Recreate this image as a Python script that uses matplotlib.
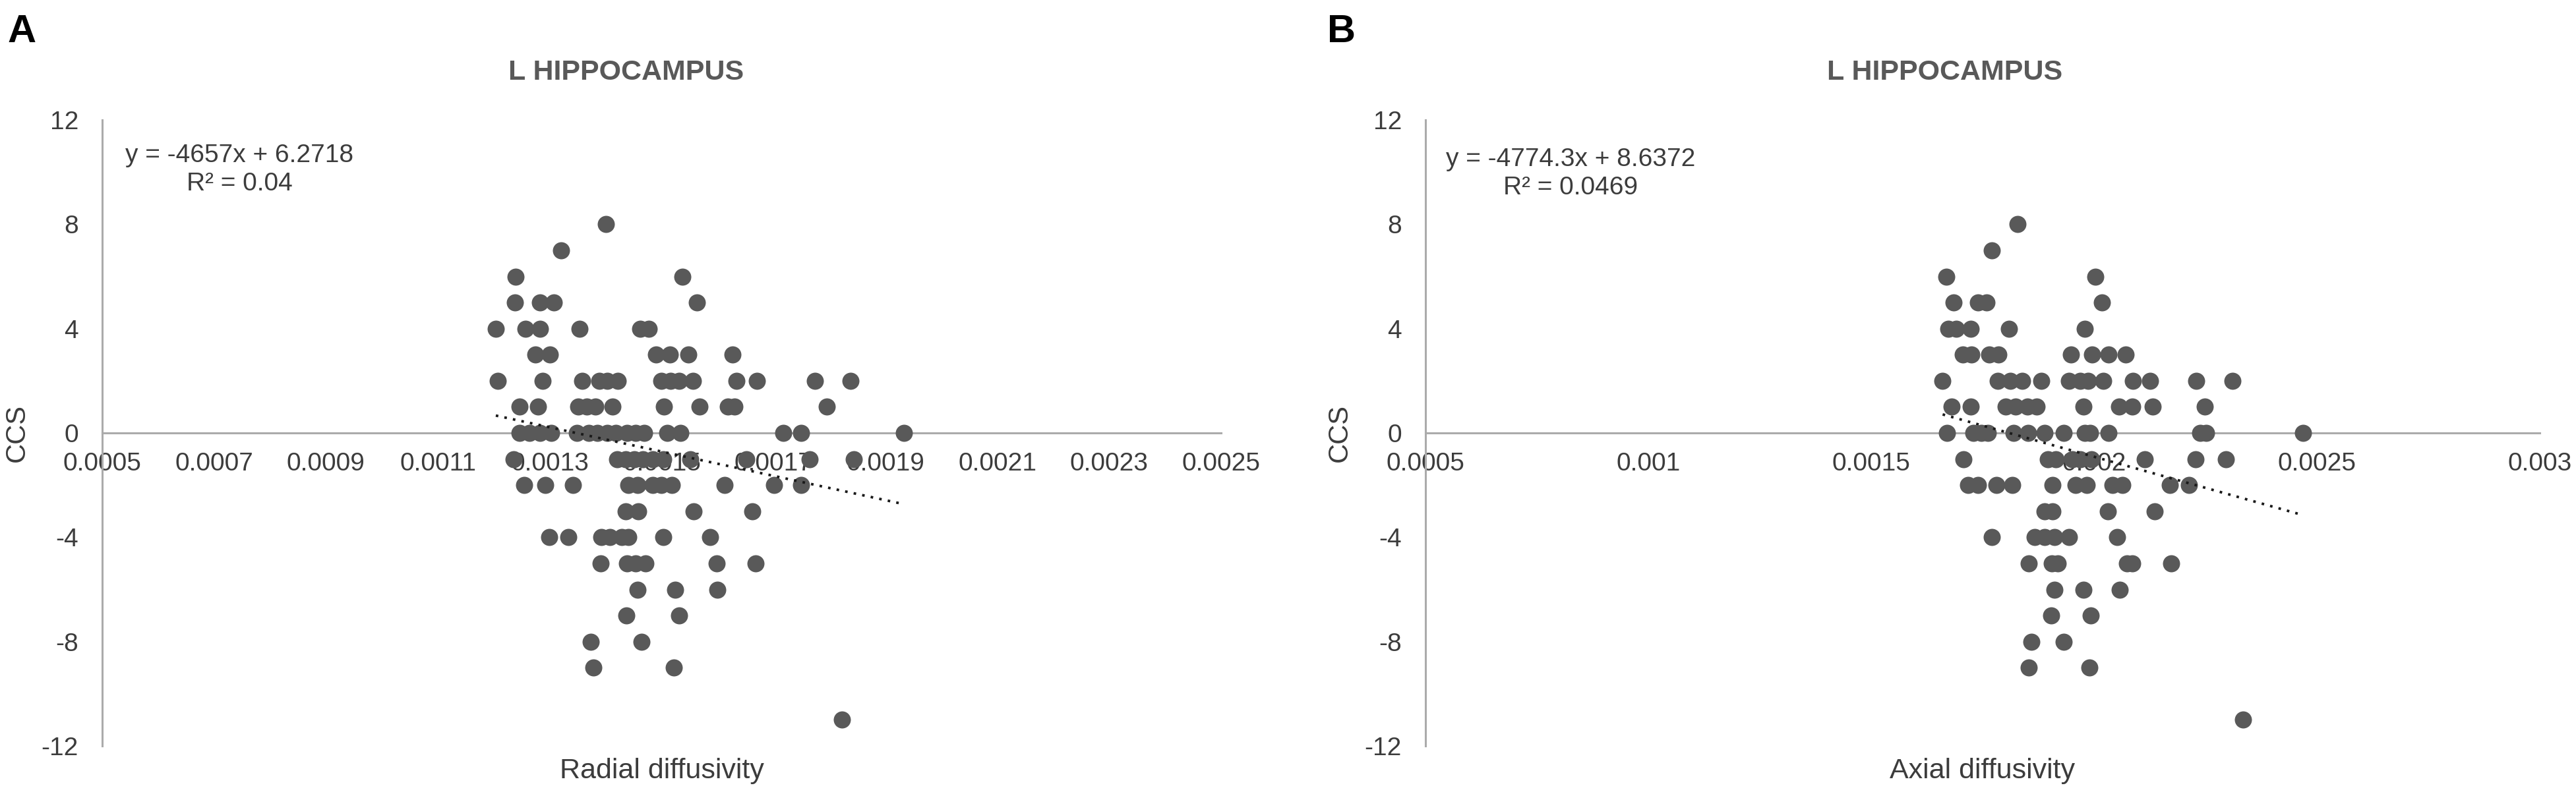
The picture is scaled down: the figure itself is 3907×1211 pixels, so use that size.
import matplotlib
matplotlib.use("Agg")
import matplotlib.pyplot as plt

plt.rcParams['font.family'] = ['Liberation Sans', 'DejaVu Sans']

# ---------------- data: panel A (radial diffusivity vs CCS) ----------------
radial_diffusivity = [
    0.0014010,                                                        # CCS 8
    0.0013205,                                                        # CCS 7
    0.0012395, 0.0015374,                                             # CCS 6
    0.0012374, 0.0012820, 0.0013077, 0.0015626,                       # CCS 5
    0.0012036, 0.0012564, 0.0012820, 0.0013528, 0.0014615, 0.0014769, # CCS 4
    0.0012744, 0.0013000, 0.0014897, 0.0015144, 0.0015472, 0.0016272, # CCS 3
    0.0012067, 0.0012872, 0.0013574, 0.0013882, 0.0014026, 0.0014215,
    0.0015000, 0.0015154, 0.0015308, 0.0015564, 0.0016333, 0.0016708,
    0.0017744, 0.0018374,                                             # CCS 2
    0.0012462, 0.0012795, 0.0013513, 0.0013667, 0.0013810, 0.0014118,
    0.0015040, 0.0015677, 0.0016179, 0.0016308, 0.0017949,            # CCS 1
    0.0012462, 0.0012641, 0.0012820, 0.0013026, 0.0013487, 0.0013692,
    0.0013846, 0.0014026, 0.0014179, 0.0014385, 0.0014538, 0.0014692,
    0.0015103, 0.0015333, 0.0017179, 0.0017487, 0.0019333,            # CCS 0
    0.0012359, 0.0014205, 0.0014359, 0.0014513, 0.0014667, 0.0014846,
    0.0015026, 0.0015513, 0.0016513, 0.0017641, 0.0018436,            # CCS -1
    0.0012538, 0.0012923, 0.0013420, 0.0014410, 0.0014564, 0.0014846,
    0.0015000, 0.0015180, 0.0016128, 0.0017010, 0.0017487,            # CCS -2
    0.0014359, 0.0014579, 0.0015574, 0.0016615,                       # CCS -3
    0.0012985, 0.0013333, 0.0013923, 0.0014077, 0.0014282, 0.0014410,
    0.0015026, 0.0015872,                                             # CCS -4
    0.0013913, 0.0014385, 0.0014538, 0.0014708, 0.0015985, 0.0016682, # CCS -5
    0.0014564, 0.0015246, 0.0016000,                                  # CCS -6
    0.0014369, 0.0015318,                                             # CCS -7
    0.0013733, 0.0014641,                                             # CCS -8
    0.0013779, 0.0015221,                                             # CCS -9
    0.0018220,                                                        # CCS -11
]
radial_ccs = (
    [8] * 1 + [7] * 1 + [6] * 2 + [5] * 4 + [4] * 6 + [3] * 6 + [2] * 14 +
    [1] * 11 + [0] * 17 + [-1] * 11 + [-2] * 11 + [-3] * 4 + [-4] * 8 +
    [-5] * 6 + [-6] * 3 + [-7] * 2 + [-8] * 2 + [-9] * 2 + [-11] * 1
)
radial_slope, radial_intercept, radial_r2 = -4657, 6.2718, "0.04"

# ---------------- data: panel B (axial diffusivity vs CCS) ----------------
axial_diffusivity = [
    0.0018284,                                                        # CCS 8
    0.0017709,                                                        # CCS 7
    0.0016690, 0.0020023,                                             # CCS 6
    0.0016850, 0.0017396, 0.0017593, 0.0020176,                       # CCS 5
    0.0016727, 0.0016909, 0.0017236, 0.0018087, 0.0019797,            # CCS 4
    0.0017054, 0.0017251, 0.0017651, 0.0017855, 0.0019484, 0.0019950,
    0.0020328, 0.0020707,                                             # CCS 3
    0.0016603, 0.0017833, 0.0018124, 0.0018393, 0.0018815, 0.0019433,
    0.0019688, 0.0019870, 0.0020212, 0.0020874, 0.0021252, 0.0022293,
    0.0023108,                                                        # CCS 2
    0.0016799, 0.0017236, 0.0018015, 0.0018233, 0.0018510, 0.0018706,
    0.0019761, 0.0020561, 0.0020852, 0.0021311, 0.0022489,            # CCS 1
    0.0016705, 0.0017287, 0.0017469, 0.0017614, 0.0018197, 0.0018524,
    0.0018888, 0.0019324, 0.0019797, 0.0019906, 0.0020328, 0.0022380,
    0.0022511, 0.0024694,                                             # CCS 0
    0.0017069, 0.0018961, 0.0019143, 0.0019506, 0.0019688, 0.0019943,
    0.0021143, 0.0022271, 0.0022962,                                  # CCS -1
    0.0017178, 0.0017396, 0.0017811, 0.0018160, 0.0019070, 0.0019579,
    0.0019834, 0.0020416, 0.0020634, 0.0021703, 0.0022126,            # CCS -2
    0.0018888, 0.0019070, 0.0020307, 0.0021361,                       # CCS -3
    0.0017702, 0.0018670, 0.0018888, 0.0019106, 0.0019433, 0.0020525, # CCS -4
    0.0018531, 0.0019048, 0.0019193, 0.0020743, 0.0020852, 0.0021725, # CCS -5
    0.0019106, 0.0019761, 0.0020583,                                  # CCS -6
    0.0019033, 0.0019921,                                             # CCS -7
    0.0018597, 0.0019324,                                             # CCS -8
    0.0018531, 0.0019892,                                             # CCS -9
    0.0023341,                                                        # CCS -11
]
axial_ccs = (
    [8] * 1 + [7] * 1 + [6] * 2 + [5] * 4 + [4] * 5 + [3] * 8 + [2] * 13 +
    [1] * 11 + [0] * 14 + [-1] * 9 + [-2] * 11 + [-3] * 4 + [-4] * 6 +
    [-5] * 6 + [-6] * 3 + [-7] * 2 + [-8] * 2 + [-9] * 2 + [-11] * 1
)
axial_slope, axial_intercept, axial_r2 = -4774.3, 8.6372, "0.0469"

radial_xticks = [0.0005, 0.0007, 0.0009, 0.0011, 0.0013, 0.0015, 0.0017,
                 0.0019, 0.0021, 0.0023, 0.0025]
radial_xticklabels = ["0.0005", "0.0007", "0.0009", "0.0011", "0.0013", "0.0015",
                      "0.0017", "0.0019", "0.0021", "0.0023", "0.0025"]
axial_xticks = [0.0005, 0.001, 0.0015, 0.002, 0.0025, 0.003]
axial_xticklabels = ["0.0005", "0.001", "0.0015", "0.002", "0.0025", "0.003"]
yticks = [-12, -8, -4, 0, 4, 8, 12]
yticklabels = ["-12", "-8", "-4", "0", "4", "8", "12"]

title_text = "L HIPPOCAMPUS"
ylabel_text = "CCS"

# ---------------- figure ----------------
W, H = 3907, 1211
fig = plt.figure(figsize=(W / 100, H / 100), dpi=100)


def fx(p):
    return p / W


def fy(p):
    return 1 - p / H


AXIS_COLOR = "#ababab"
TEXT_COLOR = "#3c3c3c"
MARK_COLOR = "#595959"

panels = [
    dict(letter="A", x0=155, x1=1852, xmax=0.0025, xs=radial_diffusivity, ys=radial_ccs,
         xticks=radial_xticks, xticklabels=radial_xticklabels,
         slope=radial_slope, intercept=radial_intercept, r2=radial_r2,
         xlabel="Radial diffusivity", letter_x=12, title_x=950, eq_x=363,
         eq_y=(246, 289), ylab_x=26),
    dict(letter="B", x0=2162, x1=3852, xmax=0.003, xs=axial_diffusivity, ys=axial_ccs,
         xticks=axial_xticks, xticklabels=axial_xticklabels,
         slope=axial_slope, intercept=axial_intercept, r2=axial_r2,
         xlabel="Axial diffusivity", letter_x=2013, title_x=2950, eq_x=2382,
         eq_y=(252, 295), ylab_x=2032),
]

top_px, bot_px = 182, 1132

for p in panels:
    ax = fig.add_axes([fx(p["x0"]), fy(bot_px), (p["x1"] - p["x0"]) / W,
                       (bot_px - top_px) / H])
    ax.set_xlim(0.0005, p["xmax"])
    ax.set_ylim(-12, 12)
    for s in ("top", "right"):
        ax.spines[s].set_visible(False)
    ax.spines["bottom"].set_position(("data", 0))
    for s in ("left", "bottom"):
        ax.spines[s].set_color(AXIS_COLOR)
        ax.spines[s].set_linewidth(2.2)
    ax.set_xticks(p["xticks"])
    ax.set_xticklabels(p["xticklabels"])
    ax.set_yticks(yticks)
    ax.set_yticklabels(yticklabels)
    ax.tick_params(axis="both", length=0, labelsize=28, colors=TEXT_COLOR)
    ax.tick_params(axis="x", pad=21)
    ax.tick_params(axis="y", pad=26)
    ax.patch.set_alpha(0)

    ax.scatter(p["xs"], p["ys"], s=350, color=MARK_COLOR, linewidths=0, zorder=3)

    xmin_d, xmax_d = min(p["xs"]), max(p["xs"])
    ax.plot([xmin_d, xmax_d],
            [p["slope"] * xmin_d + p["intercept"], p["slope"] * xmax_d + p["intercept"]],
            color="#1a1a1a", lw=2.8, linestyle=(0, (1, 2.4)), zorder=4)

    # panel letter, title, equation, axis titles
    fig.text(fx(p["letter_x"]), fy(64), p["letter"], ha="left", va="baseline",
             fontsize=43, fontweight="bold", color="black")
    fig.text(fx(p["title_x"]), fy(121), title_text, ha="center", va="baseline",
             fontsize=31, fontweight="bold", color="#595959")
    sign = "+" if p["intercept"] >= 0 else "-"
    fig.text(fx(p["eq_x"]), fy(p["eq_y"][0]),
             f"y = {p['slope']:g}x {sign} {abs(p['intercept']):g}",
             ha="center", va="baseline", fontsize=28, color=TEXT_COLOR)
    fig.text(fx(p["eq_x"]), fy(p["eq_y"][1]), f"R² = {p['r2']}",
             ha="center", va="baseline", fontsize=28, color=TEXT_COLOR)
    fig.text(fx((p["x0"] + p["x1"]) / 2), fy(1181), p["xlabel"], ha="center",
             va="baseline", fontsize=31, color=TEXT_COLOR)
    fig.text(fx(p["ylab_x"]), fy((top_px + bot_px) / 2), ylabel_text, rotation=90,
             ha="center", va="center", fontsize=30, color=TEXT_COLOR)

fig.savefig("out.png", dpi=100, facecolor="white")
